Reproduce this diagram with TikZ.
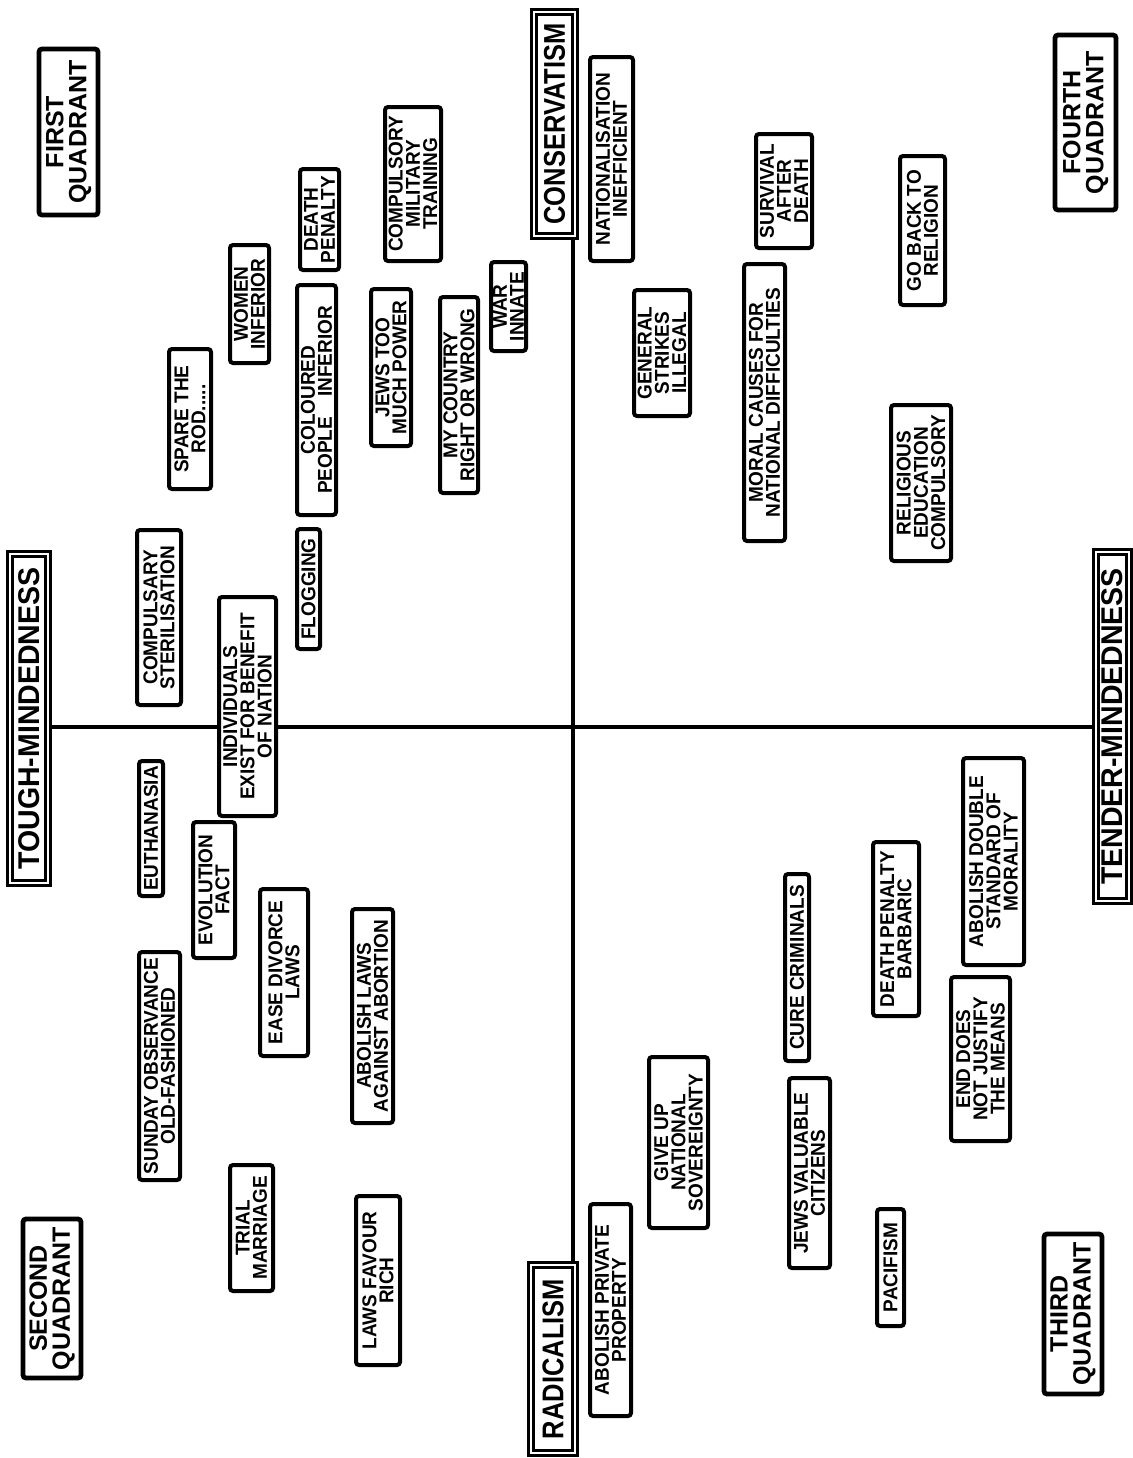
\documentclass[tikz,border=0pt]{standalone}
\usepackage{fontspec}
\newfontfamily\lab{Liberation Sans}[FakeStretch=0.95]
\newfontfamily\quadf{Liberation Sans}
\newfontfamily\axa{Liberation Sans}[FakeStretch=0.85]
\newfontfamily\axb{Liberation Sans}[FakeStretch=0.95]
\tikzset{
  box/.style={draw, line width=2pt, rounded corners=1.5pt, fill=white, rotate=90,
    align=center, inner sep=0pt, font=\lab\bfseries\fontsize{10}{8.6}\selectfont},
  quad/.style={line width=2.4pt, font=\quadf\bfseries\fontsize{12.5}{11.5}\selectfont},
  axlab/.style={line width=1.3pt, double=white, double distance=1.4pt, rounded corners=0pt},
  axA/.style={axlab, font=\axa\bfseries\fontsize{15}{15}\selectfont},
  axB/.style={axlab, font=\axb\bfseries\fontsize{15}{15}\selectfont},
  axisline/.style={line width=2.2pt}
}
\newcommand\bx[7][]{\node[box,#1,minimum width={(#6-#4)*0.5pt-2pt},minimum height={(#5-#3)*0.5pt-2pt}] (#2) at ({(#3+#5)/2},{(#4+#6)/2}) {#7};}
\begin{document}
\begin{tikzpicture}[x=0.5pt,y=-0.5pt]
\useasboundingbox[fill=white] (0,0) rectangle (1132,1458);
% axis labels
\bx[axA]{cons}{532}{10}{577}{238}{CONSERVATISM}
\bx[axA]{rad}{529}{1263}{577}{1455}{RADICALISM}
\bx[axB]{tough}{8}{552}{50}{885}{TOUGH-MINDEDNESS}
\bx[axB]{tender}{1094}{550}{1131}{903}{TENDER-MINDEDNESS}
% axes
\coordinate (o) at (573,727);
\draw[axisline] (o |- cons.west) -- (o |- rad.east);
\draw[axisline] (tough.south |- o) -- (tender.north |- o);
% quadrant labels
\bx[quad]{first}{37}{47}{100}{217}{FIRST\\QUADRANT}
\bx[quad]{second}{21}{1217}{83}{1380}{SECOND\\QUADRANT}
\bx[quad]{third}{1042}{1232}{1104}{1396}{THIRD\\QUADRANT}
\bx[quad]{fourth}{1053}{33}{1118}{212}{FOURTH\\QUADRANT}
% first quadrant
\bx{dp}{298}{167}{341}{272}{DEATH\\PENALTY}
\bx{women}{228}{243}{271}{365}{WOMEN\\INFERIOR}
\bx{col}{295}{283}{338}{517}{COLOURED\\PEOPLE\quad INFERIOR}
\bx{jews}{369}{287}{413}{448}{JEWS TOO\\MUCH POWER}
\bx{cmt}{383}{105}{443}{263}{COMPULSORY\\MILITARY\\TRAINING}
\bx{country}{438}{295}{480}{495}{MY COUNTRY\\RIGHT OR WRONG}
\bx{war}{489}{260}{528}{353}{WAR\\INNATE}
\bx{spare}{167}{347}{213}{491}{SPARE THE\\ROD.....}
\bx{steril}{135}{528}{183}{707}{COMPULSARY\\STERILISATION}
\bx{flog}{295}{527}{322}{651}{FLOGGING}
\bx{indiv}{217}{595}{278}{818}{INDIVIDUALS\\EXIST FOR BENEFIT\\OF NATION}
% fourth quadrant
\bx{natl}{588}{55}{635}{263}{NATIONALISATION\\INEFFICIENT}
\bx{strikes}{632}{288}{692}{418}{GENERAL\\STRIKES\\ILLEGAL}
\bx{moral}{742}{262}{787}{543}{MORAL CAUSES FOR\\NATIONAL DIFFICULTIES}
\bx{surv}{754}{132}{814}{250}{SURVIVAL\\AFTER\\DEATH}
\bx{goback}{898}{154}{947}{307}{GO BACK TO\\RELIGION}
\bx{relig}{889}{403}{953}{563}{RELIGIOUS\\EDUCATION\\COMPULSORY}
% second quadrant
\bx{euth}{137}{759}{165}{898}{EUTHANASIA}
\bx{evol}{191}{820}{237}{960}{EVOLUTION\\FACT}
\bx{ease}{258}{887}{310}{1058}{EASE DIVORCE\\LAWS}
\bx{sunday}{137}{950}{182}{1182}{SUNDAY OBSERVANCE\\OLD-FASHIONED}
\bx{abort}{350}{907}{395}{1125}{ABOLISH LAWS\\AGAINST ABORTION}
\bx{trial}{228}{1163}{275}{1293}{TRIAL\\MARRIAGE}
\bx{rich}{354}{1194}{402}{1367}{LAWS FAVOUR\\RICH}
% third quadrant
\bx{prop}{588}{1202}{633}{1418}{ABOLISH PRIVATE\\PROPERTY}
\bx{sov}{647}{1055}{710}{1230}{GIVE UP\\NATIONAL\\SOVEREIGNTY}
\bx{cure}{783}{872}{811}{1063}{CURE CRIMINALS}
\bx{jewsv}{787}{1076}{832}{1270}{JEWS VALUABLE\\CITIZENS}
\bx{dpb}{871}{840}{921}{1018}{DEATH PENALTY\\BARBARIC}
\bx{double}{961}{756}{1026}{967}{ABOLISH DOUBLE\\STANDARD OF\\MORALITY}
\bx{endm}{949}{975}{1012}{1143}{END DOES\\NOT JUSTIFY\\THE MEANS}
\bx{pac}{875}{1207}{906}{1328}{PACIFISM}
\end{tikzpicture}
\end{document}
